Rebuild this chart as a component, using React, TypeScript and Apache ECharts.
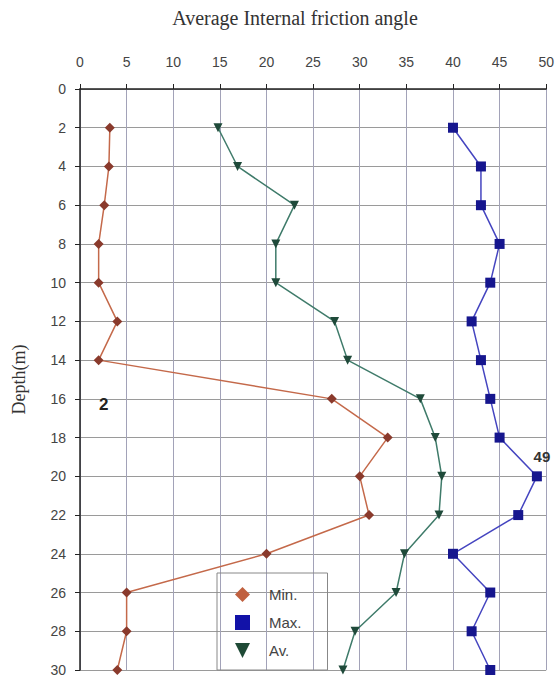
import React, { useEffect, useRef } from "react";
import * as echarts from "echarts";

// Depth (m) of each measurement level
const depths = [2, 4, 6, 8, 10, 12, 14, 16, 18, 20, 22, 24, 26, 28, 30];
// Internal friction angle (degrees) at each depth
const minAngle = [3.2, 3.1, 2.6, 2, 2, 4, 2, 27, 33, 30, 31, 20, 5, 5, 4];
const maxAngle = [40, 43, 43, 45, 44, 42, 43, 44, 45, 49, 47, 40, 44, 42, 44];
const avAngle = [14.8, 16.9, 23, 21, 21, 27.3, 28.7, 36.5, 38.1, 38.8, 38.5, 34.8, 33.9, 29.5, 28.2];

const xTicks = [0, 5, 10, 15, 20, 25, 30, 35, 40, 45, 50];
const seriesNames = ["Min.", "Max.", "Av."];
// depths whose values are written next to the marker
const minLabelDepth = 14;
const maxLabelDepth = 20;

const SANS = "'Liberation Sans Narrow', 'Liberation Sans', Arial, sans-serif";
const SERIF = "'Liberation Serif', 'Times New Roman', serif";

const pairs = (vals: number[]) => vals.map((v, i) => [v, depths[i]]);

export default function App() {
  const ref = useRef<HTMLDivElement>(null);

  useEffect(() => {
    if (!ref.current) return;
    const chart = echarts.init(ref.current, null, { renderer: "svg" });

    const minData: any[] = pairs(minAngle);
    const minIdx = depths.indexOf(minLabelDepth);
    minData[minIdx] = {
      value: minData[minIdx],
      label: {
        show: true,
        formatter: String(minAngle[minIdx]),
        position: "inside",
        offset: [5, 44],
        fontSize: 17,
        fontWeight: "bold",
        fontFamily: SANS,
        color: "#222",
      },
    };

    const maxData: any[] = pairs(maxAngle);
    const maxIdx = depths.indexOf(maxLabelDepth);
    maxData[maxIdx] = {
      value: maxData[maxIdx],
      label: {
        show: true,
        formatter: String(maxAngle[maxIdx]),
        position: "inside",
        offset: [5, -20],
        fontSize: 15,
        fontWeight: "bold",
        fontFamily: SANS,
        color: "#333",
      },
    };

    chart.setOption({
      animation: false,
      backgroundColor: "#ffffff",
      title: {
        text: "Average Internal friction angle",
        left: 290,
        textAlign: "center",
        top: 3,
        textStyle: {
          fontFamily: SERIF,
          fontSize: 20,
          fontWeight: "normal",
          color: "#333",
        },
      },
      legend: {
        orient: "vertical",
        left: 217,
        top: 573,
        padding: [14, 26, 12, 18],
        itemGap: 13,
        itemWidth: 15,
        itemHeight: 15,
        borderColor: "#888",
        borderWidth: 1,
        textStyle: { fontFamily: SANS, fontSize: 15, color: "#444", padding: [0, 0, 0, 14] },
        data: [
          { name: seriesNames[0], icon: "diamond", itemStyle: { color: "#c0603f" } },
          { name: seriesNames[1], icon: "rect", itemStyle: { color: "#1212a8" } },
          {
            name: seriesNames[2],
            icon: "path://M0,0 L10,0 L5,10 Z",
            itemStyle: { color: "#1f4a36" },
          },
        ],
      },
      grid: { left: 80, right: 10, top: 89, bottom: 10 },
      xAxis: {
        type: "value",
        position: "top",
        min: 0,
        max: 50,
        interval: 5,
        axisLine: { show: true, lineStyle: { color: "#222", width: 1.5 } },
        axisTick: { show: true, length: 5, lineStyle: { color: "#222" } },
        axisLabel: {
          margin: 20,
          fontFamily: SANS,
          fontSize: 14,
          color: "#444",
          customValues: xTicks,
        },
        splitLine: { show: true, lineStyle: { color: "#a2a2b8", width: 1 } },
      },
      yAxis: {
        type: "value",
        inverse: true,
        min: 0,
        max: 30,
        interval: 2,
        name: "Depth(m)",
        nameLocation: "middle",
        nameGap: 52,
        nameRotate: 90,
        nameTextStyle: { fontFamily: SERIF, fontSize: 18, color: "#333" },
        axisLine: { show: true, lineStyle: { color: "#222", width: 1.5 } },
        axisTick: { show: true, length: 5, lineStyle: { color: "#222" } },
        axisLabel: { margin: 14, fontFamily: SANS, fontSize: 14, color: "#444" },
        splitLine: { show: true, lineStyle: { color: "#9a9a9a", width: 1 } },
      },
      series: [
        {
          name: seriesNames[0],
          type: "line",
          data: minData,
          symbol: "diamond",
          symbolSize: 10,
          lineStyle: { color: "#c4694a", width: 1.5 },
          itemStyle: { color: "#8a3a2c" },
        },
        {
          name: seriesNames[1],
          type: "line",
          data: maxData,
          symbol: "rect",
          symbolSize: 10,
          lineStyle: { color: "#4545c0", width: 1.5 },
          itemStyle: { color: "#16168e" },
        },
        {
          name: seriesNames[2],
          type: "line",
          data: pairs(avAngle),
          symbol: "triangle",
          symbolRotate: 180,
          symbolSize: 9,
          lineStyle: { color: "#3f7b6a", width: 1.5 },
          itemStyle: { color: "#1f4a3a" },
        },
      ],
    });

    return () => chart.dispose();
  }, []);

  return <div ref={ref} style={{ width: 557, height: 680, position: "absolute", left: 0, top: 0 }} />;
}
